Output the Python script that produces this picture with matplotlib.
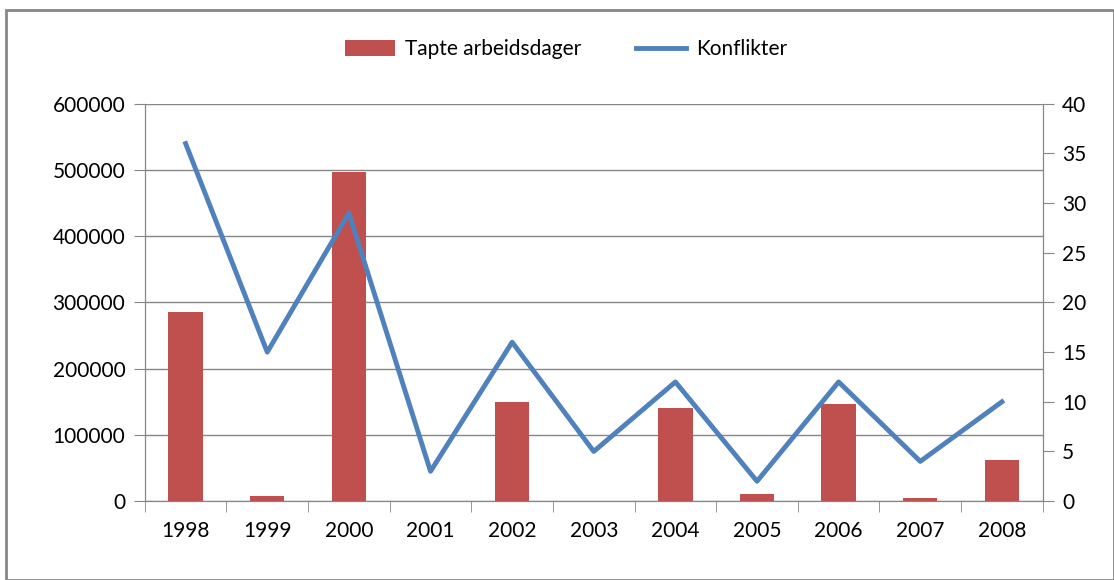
import matplotlib.pyplot as plt
import matplotlib.patches as patches
import numpy as np

years = ["1998", "1999", "2000", "2001", "2002", "2003", "2004", "2005", "2006", "2007", "2008"]
tapte_arbeidsdager = [285500, 7500, 497000, 0, 150000, 0, 140500, 11000, 146500, 4500, 62000]
konflikter = [36, 15, 29, 3, 16, 5, 12, 2, 12, 4, 10]

plt.rcParams["font.family"] = ["Lato", "DejaVu Sans"]

fig = plt.figure(figsize=(11.14, 5.8), dpi=100)
ax = fig.add_axes([0.130, 0.136, 0.806, 0.685])
ax2 = ax.twinx()

x = np.arange(len(years))
bars = ax.bar(x, tapte_arbeidsdager, 0.42, color="#c0504d", label="Tapte arbeidsdager", zorder=3)
line, = ax2.plot(x, konflikter, color="#4f81bd", linewidth=3.5, label="Konflikter", zorder=4)

ax.set_xlim(-0.5, len(years) - 0.5)
ax.set_ylim(0, 600000)
ax2.set_ylim(0, 40)
ax.set_yticks(range(0, 600001, 100000))
ax2.set_yticks(range(0, 41, 5))

ax.set_xticks(x)
ax.set_xticklabels(years)
ax.set_xticks(np.arange(-0.5, len(years), 1), minor=True)
ax.tick_params(axis="x", which="major", length=0, labelsize=15, pad=14)
ax.tick_params(axis="x", which="minor", length=8, color="#868686", direction="out")
ax.tick_params(axis="y", labelsize=15, length=8, color="#868686", pad=6)
ax2.tick_params(axis="y", labelsize=15, length=8, color="#868686", pad=6)

ax.yaxis.grid(True, color="#868686", linewidth=1)
ax.set_axisbelow(True)

for a in (ax, ax2):
    a.spines["top"].set_visible(False)
    for s in ("left", "right", "bottom"):
        a.spines[s].set_color("#868686")

fig.legend(handles=[bars, line], loc="center", bbox_to_anchor=(0.508, 0.915), ncol=2,
           frameon=False, fontsize=15, handlelength=2.4, handleheight=0.8,
           handletextpad=0.5, columnspacing=2.6)

fig.patches.append(patches.Rectangle((0.005, 0.0), 0.995, 0.983, transform=fig.transFigure,
                                     fill=False, edgecolor="#868686", linewidth=2))

fig.savefig("out.png", dpi=100)
